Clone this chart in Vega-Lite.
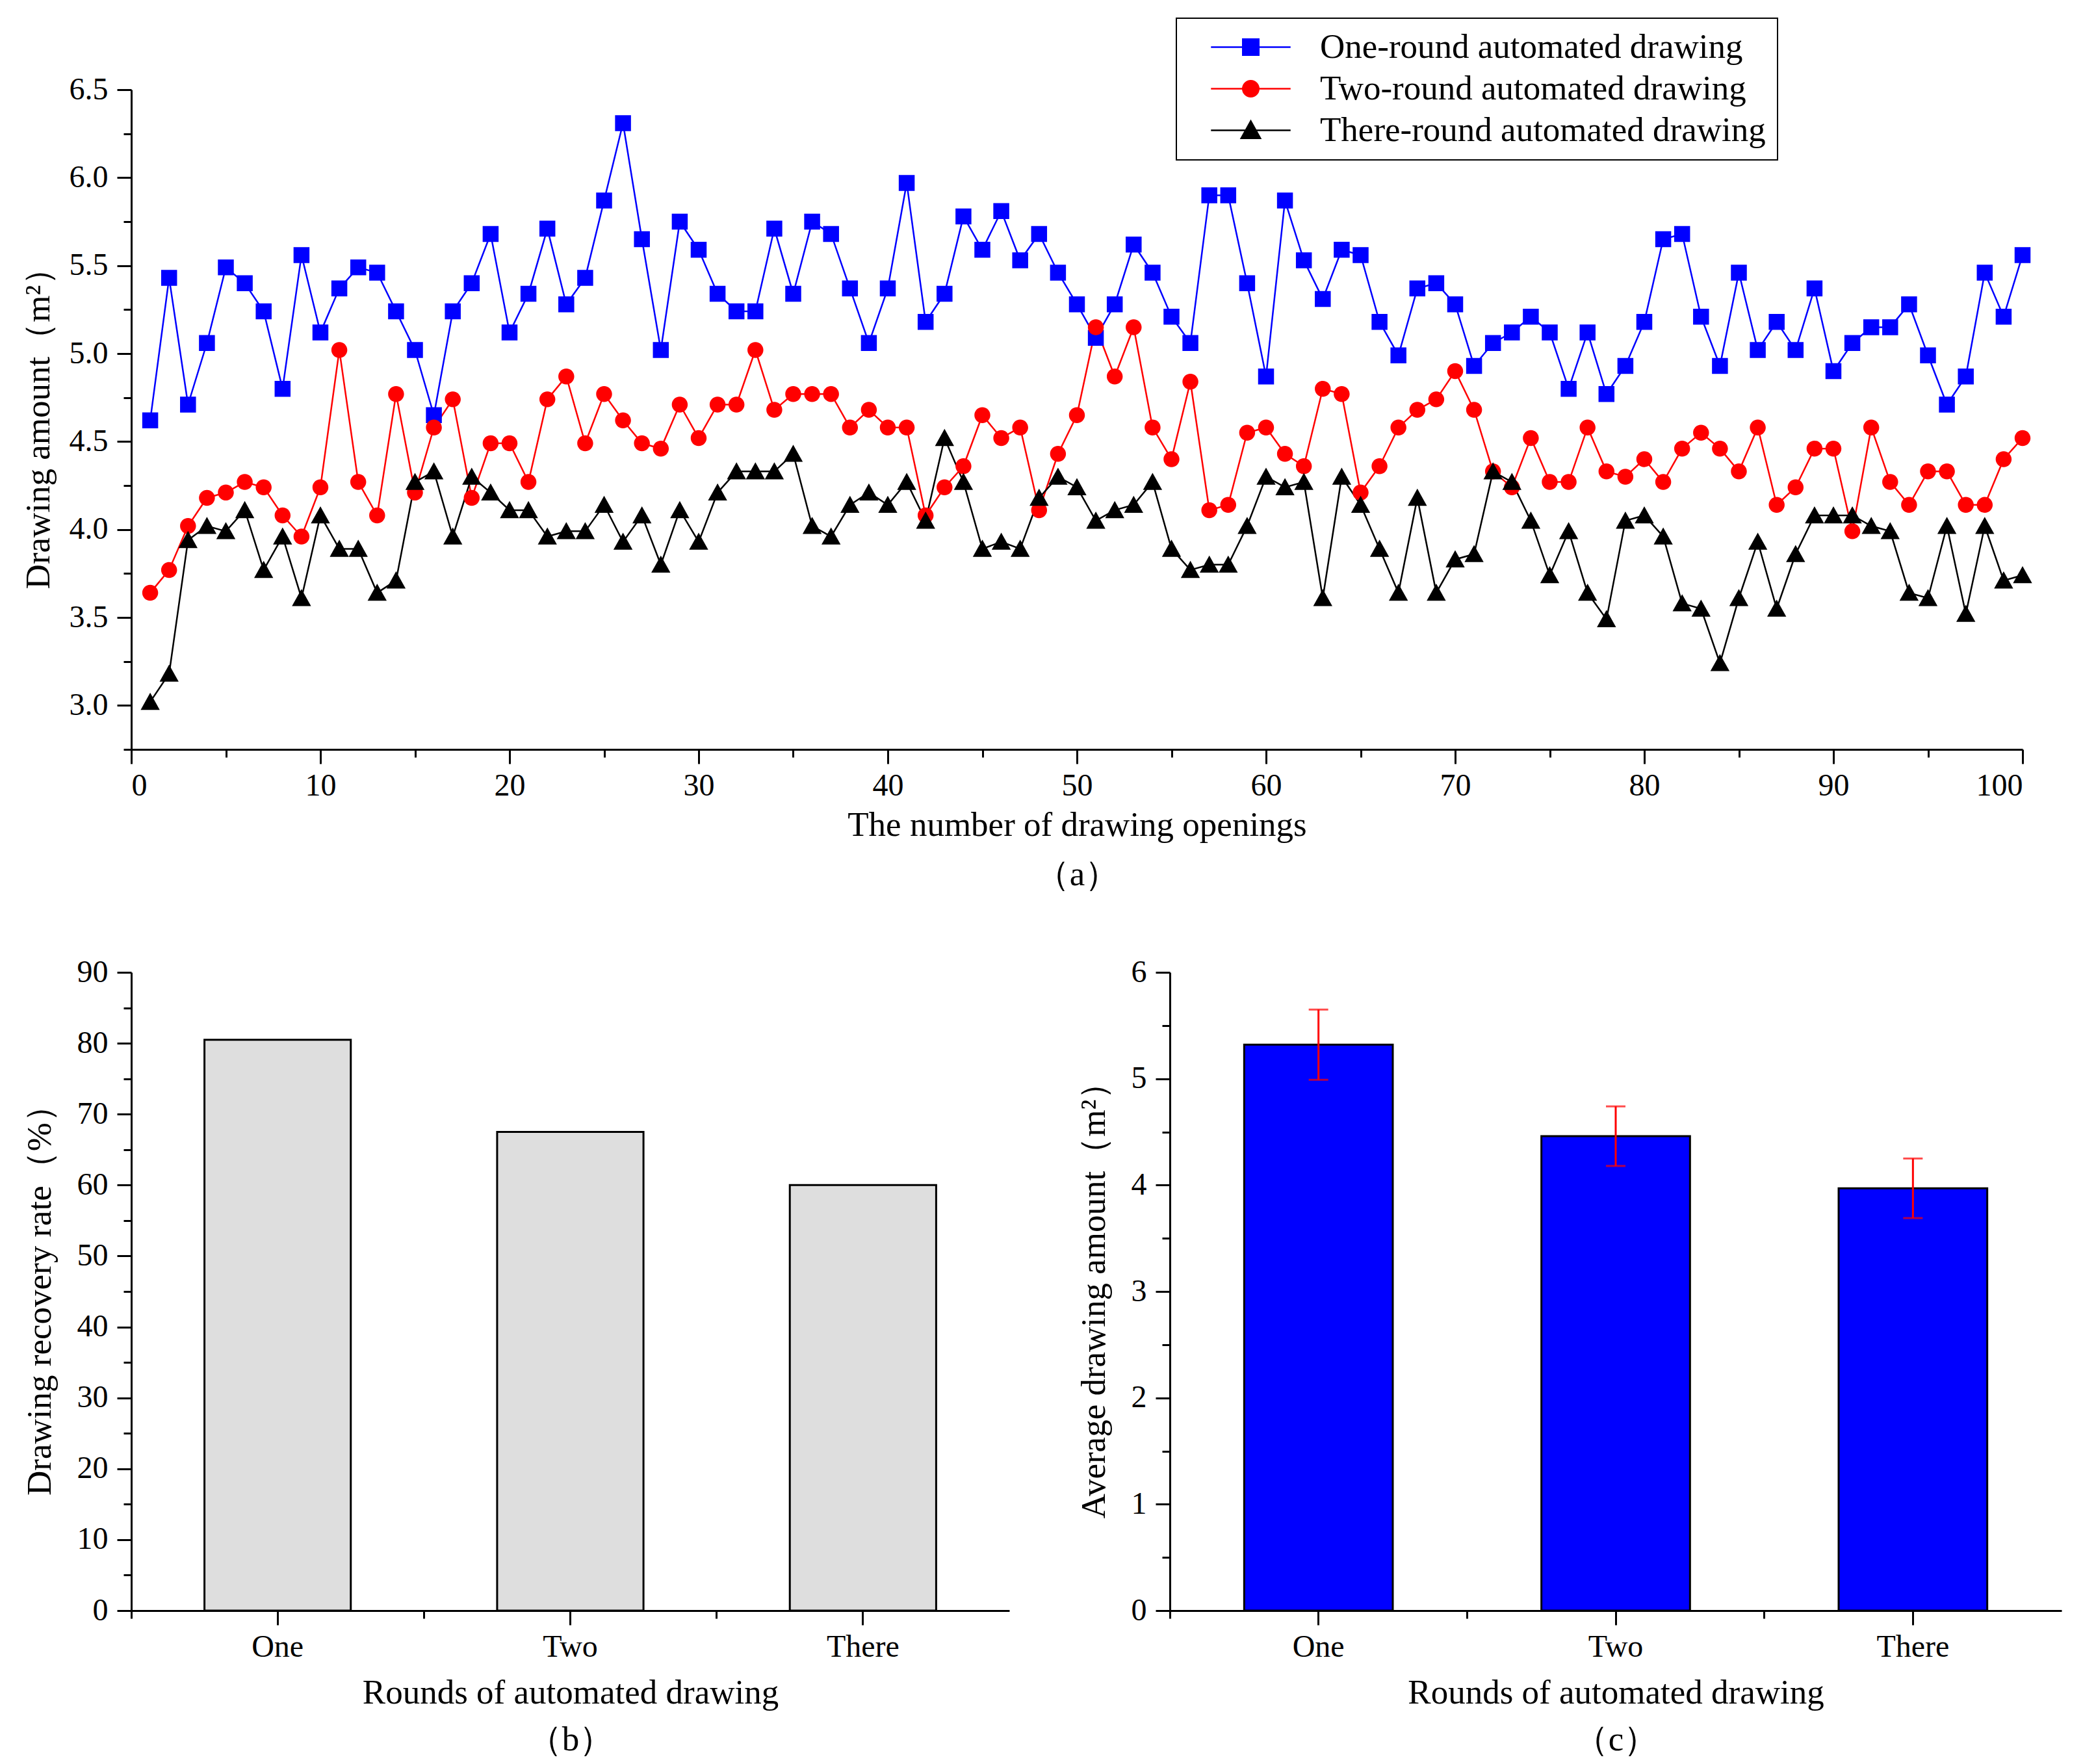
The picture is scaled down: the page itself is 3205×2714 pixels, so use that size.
{
  "$schema": "https://vega.github.io/schema/vega-lite/v6.json",
  "background": "white",
  "padding": {"left": 33, "top": 27, "right": 5, "bottom": 0},
  "config": {
    "font": "Liberation Serif",
    "view": {"stroke": null},
    "axis": {
      "grid": false,
      "domainColor": "black", "domainWidth": 3,
      "tickColor": "black", "tickWidth": 3, "tickSize": 22,
      "labelColor": "black", "labelFont": "Liberation Serif", "labelFontSize": 48, "labelPadding": 14,
      "titleColor": "black", "titleFont": "Liberation Serif", "titleFontSize": 53, "titleFontWeight": "normal"
    },
    "legend": {
      "orient": "none", "legendX": 1608, "legendY": -110, "title": null, "direction": "vertical",
      "strokeColor": "black", "strokeWidth": 2, "padding": 18,
      "labelFontSize": 53, "labelFont": "Liberation Serif", "labelColor": "black", "labelLimit": 2000,
      "rowPadding": 10, "symbolOffset": 70, "labelOffset": 80, "symbolSize": 600
    }
  },
  "spacing": 100,
  "vconcat": [
    {
      "width": 2910,
      "height": 1015,
      "data": {"values": [
        {"n":1,"one":4.62,"two":3.64,"three":3.02},
        {"n":2,"one":5.43,"two":3.77,"three":3.18},
        {"n":3,"one":4.71,"two":4.02,"three":3.94},
        {"n":4,"one":5.06,"two":4.18,"three":4.02},
        {"n":5,"one":5.49,"two":4.21,"three":3.99},
        {"n":6,"one":5.40,"two":4.27,"three":4.11},
        {"n":7,"one":5.24,"two":4.24,"three":3.77},
        {"n":8,"one":4.80,"two":4.08,"three":3.96},
        {"n":9,"one":5.56,"two":3.96,"three":3.61},
        {"n":10,"one":5.12,"two":4.24,"three":4.08},
        {"n":11,"one":5.37,"two":5.02,"three":3.89},
        {"n":12,"one":5.49,"two":4.27,"three":3.89},
        {"n":13,"one":5.46,"two":4.08,"three":3.64},
        {"n":14,"one":5.24,"two":4.77,"three":3.71},
        {"n":15,"one":5.02,"two":4.21,"three":4.27},
        {"n":16,"one":4.65,"two":4.58,"three":4.33},
        {"n":17,"one":5.24,"two":4.74,"three":3.96},
        {"n":18,"one":5.40,"two":4.18,"three":4.30},
        {"n":19,"one":5.68,"two":4.49,"three":4.21},
        {"n":20,"one":5.12,"two":4.49,"three":4.11},
        {"n":21,"one":5.34,"two":4.27,"three":4.11},
        {"n":22,"one":5.71,"two":4.74,"three":3.96},
        {"n":23,"one":5.28,"two":4.87,"three":3.99},
        {"n":24,"one":5.43,"two":4.49,"three":3.99},
        {"n":25,"one":5.87,"two":4.77,"three":4.14},
        {"n":26,"one":6.31,"two":4.62,"three":3.93},
        {"n":27,"one":5.65,"two":4.49,"three":4.08},
        {"n":28,"one":5.02,"two":4.46,"three":3.80},
        {"n":29,"one":5.75,"two":4.71,"three":4.11},
        {"n":30,"one":5.59,"two":4.52,"three":3.93},
        {"n":31,"one":5.34,"two":4.71,"three":4.21},
        {"n":32,"one":5.24,"two":4.71,"three":4.33},
        {"n":33,"one":5.24,"two":5.02,"three":4.33},
        {"n":34,"one":5.71,"two":4.68,"three":4.33},
        {"n":35,"one":5.34,"two":4.77,"three":4.43},
        {"n":36,"one":5.75,"two":4.77,"three":4.02},
        {"n":37,"one":5.68,"two":4.77,"three":3.96},
        {"n":38,"one":5.37,"two":4.58,"three":4.14},
        {"n":39,"one":5.06,"two":4.68,"three":4.21},
        {"n":40,"one":5.37,"two":4.58,"three":4.14},
        {"n":41,"one":5.97,"two":4.58,"three":4.27},
        {"n":42,"one":5.18,"two":4.08,"three":4.05},
        {"n":43,"one":5.34,"two":4.24,"three":4.52},
        {"n":44,"one":5.78,"two":4.36,"three":4.27},
        {"n":45,"one":5.59,"two":4.65,"three":3.89},
        {"n":46,"one":5.81,"two":4.52,"three":3.93},
        {"n":47,"one":5.53,"two":4.58,"three":3.89},
        {"n":48,"one":5.68,"two":4.11,"three":4.18},
        {"n":49,"one":5.46,"two":4.43,"three":4.30},
        {"n":50,"one":5.28,"two":4.65,"three":4.24},
        {"n":51,"one":5.09,"two":5.15,"three":4.05},
        {"n":52,"one":5.28,"two":4.87,"three":4.11},
        {"n":53,"one":5.62,"two":5.15,"three":4.14},
        {"n":54,"one":5.46,"two":4.58,"three":4.27},
        {"n":55,"one":5.21,"two":4.40,"three":3.89},
        {"n":56,"one":5.06,"two":4.84,"three":3.77},
        {"n":57,"one":5.90,"two":4.11,"three":3.80},
        {"n":58,"one":5.90,"two":4.14,"three":3.80},
        {"n":59,"one":5.40,"two":4.55,"three":4.02},
        {"n":60,"one":4.87,"two":4.58,"three":4.30},
        {"n":61,"one":5.87,"two":4.43,"three":4.24},
        {"n":62,"one":5.53,"two":4.36,"three":4.27},
        {"n":63,"one":5.31,"two":4.80,"three":3.61},
        {"n":64,"one":5.59,"two":4.77,"three":4.30},
        {"n":65,"one":5.56,"two":4.21,"three":4.14},
        {"n":66,"one":5.18,"two":4.36,"three":3.89},
        {"n":67,"one":4.99,"two":4.58,"three":3.64},
        {"n":68,"one":5.37,"two":4.68,"three":4.18},
        {"n":69,"one":5.40,"two":4.74,"three":3.64},
        {"n":70,"one":5.28,"two":4.90,"three":3.83},
        {"n":71,"one":4.93,"two":4.68,"three":3.86},
        {"n":72,"one":5.06,"two":4.33,"three":4.33},
        {"n":73,"one":5.12,"two":4.24,"three":4.27},
        {"n":74,"one":5.21,"two":4.52,"three":4.05},
        {"n":75,"one":5.12,"two":4.27,"three":3.74},
        {"n":76,"one":4.80,"two":4.27,"three":3.99},
        {"n":77,"one":5.12,"two":4.58,"three":3.64},
        {"n":78,"one":4.77,"two":4.33,"three":3.49},
        {"n":79,"one":4.93,"two":4.30,"three":4.05},
        {"n":80,"one":5.18,"two":4.40,"three":4.08},
        {"n":81,"one":5.65,"two":4.27,"three":3.96},
        {"n":82,"one":5.68,"two":4.46,"three":3.58},
        {"n":83,"one":5.21,"two":4.55,"three":3.55},
        {"n":84,"one":4.93,"two":4.46,"three":3.24},
        {"n":85,"one":5.46,"two":4.33,"three":3.61},
        {"n":86,"one":5.02,"two":4.58,"three":3.93},
        {"n":87,"one":5.18,"two":4.14,"three":3.55},
        {"n":88,"one":5.02,"two":4.24,"three":3.86},
        {"n":89,"one":5.37,"two":4.46,"three":4.08},
        {"n":90,"one":4.90,"two":4.46,"three":4.08},
        {"n":91,"one":5.06,"two":3.99,"three":4.08},
        {"n":92,"one":5.15,"two":4.58,"three":4.02},
        {"n":93,"one":5.15,"two":4.27,"three":3.99},
        {"n":94,"one":5.28,"two":4.14,"three":3.64},
        {"n":95,"one":4.99,"two":4.33,"three":3.61},
        {"n":96,"one":4.71,"two":4.33,"three":4.02},
        {"n":97,"one":4.87,"two":4.14,"three":3.52},
        {"n":98,"one":5.46,"two":4.14,"three":4.02},
        {"n":99,"one":5.21,"two":4.40,"three":3.71},
        {"n":100,"one":5.56,"two":4.52,"three":3.74}
      ]},
      "transform": [{"fold": ["one", "two", "three"], "as": ["series", "value"]}],
      "encoding": {
        "color": {"field": "series", "type": "nominal",
                  "scale": {"domain": ["one", "two", "three"], "range": ["#0000ff", "#ff0000", "#000000"]},
                  "legend": {
                    "labelExpr": "datum.label == 'one' ? 'One-round automated drawing\u2003\u2003 ' : datum.label == 'two' ? 'Two-round automated drawing\u2003\u2003 ' : 'There-round automated drawing\u2003\u2003 '",
                    "encode": {"symbols": {"update": {
                      "stroke": {"signal": "datum.value == 'one' ? '#0000ff' : datum.value == 'two' ? '#ff0000' : '#000000'"},
                      "strokeWidth": {"value": 2.5}
                    }}}
                  }}
      },
      "layer": [
        {
          "mark": {"type": "line", "strokeWidth": 2.5},
          "encoding": {
            "x": {"field": "n", "type": "quantitative", "scale": {"domain": [0, 100], "nice": false},
                  "axis": {"values": [0,10,20,30,40,50,60,70,80,90,100], "format": "d", "labelPadding": 10,
                           "title": ["The number of drawing openings", "（a）"], "titleLineHeight": 76, "titlePadding": 10}},
            "y": {"field": "value", "type": "quantitative", "scale": {"domain": [2.75, 6.5], "nice": false, "zero": false},
                  "axis": {"values": [3,3.5,4,4.5,5,5.5,6,6.5], "format": ".1f", "title": "Drawing amount（m²）", "titlePadding": 20}}
          }
        },
        {
          "mark": {"type": "point", "filled": true, "opacity": 1},
          "encoding": {
            "x": {"field": "n", "type": "quantitative",
                  "axis": {"values": [5,15,25,35,45,55,65,75,85,95], "labels": false, "title": null, "domain": false, "tickSize": 12, "orient": "bottom"}},
            "y": {"field": "value", "type": "quantitative",
                  "axis": {"values": [2.75,3.25,3.75,4.25,4.75,5.25,5.75,6.25], "labels": false, "title": null, "domain": false, "tickSize": 12, "orient": "left"}},
            "shape": {"field": "series", "type": "nominal",
                      "scale": {"domain": ["one", "two", "three"], "range": [
                        "M-5,0H5M-1,-1H1V1H-1Z",
                        "M-5,0H5M1,0A1,1,0,1,1,-1,0A1,1,0,1,1,1,0Z",
                        "M-5,0H5M0,-1.15L1.2,1H-1.2Z"
                      ]},
                      "legend": {
                        "labelExpr": "datum.label == 'one' ? 'One-round automated drawing\u2003\u2003 ' : datum.label == 'two' ? 'Two-round automated drawing\u2003\u2003 ' : 'There-round automated drawing\u2003\u2003 '",
                        "encode": {"symbols": {"update": {
                          "stroke": {"signal": "datum.value == 'one' ? '#0000ff' : datum.value == 'two' ? '#ff0000' : '#000000'"},
                          "strokeWidth": {"value": 2.5}
                        }}}
                      }},
            "size": {"value": 600}
          }
        }
      ],
      "resolve": {"axis": {"x": "independent", "y": "independent"}}
    },
    {
      "spacing": 104,
      "hconcat": [
        {
          "width": 1351,
          "height": 982,
          "data": {"values": [
            {"r": "One", "v": 80.5},
            {"r": "Two", "v": 67.5},
            {"r": "There", "v": 60.0}
          ]},
          "layer": [
            {
              "mark": {"type": "bar", "fill": "#dedede", "stroke": "black", "strokeWidth": 3},
              "encoding": {
                "x": {"field": "r", "type": "nominal", "sort": ["One", "Two", "There"],
                      "scale": {"paddingInner": 0.5, "paddingOuter": 0.25},
                      "axis": {"labelAngle": 0, "labelPadding": 10, "title": ["Rounds of automated drawing", "（b）"], "titleLineHeight": 72, "titlePadding": 20}},
                "y": {"field": "v", "type": "quantitative", "scale": {"domain": [0, 90], "nice": false},
                      "axis": {"values": [0,10,20,30,40,50,60,70,80,90], "title": "Drawing recovery rate（%）", "titlePadding": 30}}
              }
            },
            {
              "mark": {"type": "bar", "opacity": 0},
              "encoding": {
                "x": {"field": "r", "type": "nominal", "sort": ["One", "Two", "There"],
                      "axis": {"bandPosition": -0.5, "labels": false, "title": null, "domain": false, "tickSize": 12, "orient": "bottom"}},
                "y": {"field": "v", "type": "quantitative",
                      "axis": {"values": [5,15,25,35,45,55,65,75,85], "labels": false, "title": null, "domain": false, "tickSize": 12, "orient": "left"}}
              }
            }
          ],
          "resolve": {"axis": {"x": "independent", "y": "independent"}}
        },
        {
          "width": 1372,
          "height": 982,
          "data": {"values": [
            {"r": "One", "m": 5.32, "lo": 4.99, "hi": 5.65},
            {"r": "Two", "m": 4.46, "lo": 4.18, "hi": 4.74},
            {"r": "There", "m": 3.97, "lo": 3.69, "hi": 4.25}
          ]},
          "layer": [
            {
              "mark": {"type": "bar", "fill": "#0000ff", "stroke": "black", "strokeWidth": 3},
              "encoding": {
                "x": {"field": "r", "type": "nominal", "sort": ["One", "Two", "There"],
                      "scale": {"paddingInner": 0.5, "paddingOuter": 0.25},
                      "axis": {"labelAngle": 0, "labelPadding": 10, "title": ["Rounds of automated drawing", "（c）"], "titleLineHeight": 72, "titlePadding": 20}},
                "y": {"field": "m", "type": "quantitative", "scale": {"domain": [0, 6], "nice": false},
                      "axis": {"values": [0,1,2,3,4,5,6], "title": "Average drawing amount（m²）", "titlePadding": 30}}
              }
            },
            {
              "mark": {"type": "errorbar", "color": "#ff0000", "ticks": {"size": 30, "thickness": 3}, "rule": {"strokeWidth": 3}},
              "encoding": {
                "x": {"field": "r", "type": "nominal", "sort": ["One", "Two", "There"],
                      "axis": {"bandPosition": -0.5, "labels": false, "title": null, "domain": false, "tickSize": 12, "orient": "bottom"}},
                "y": {"field": "lo", "type": "quantitative",
                      "axis": {"values": [0.5,1.5,2.5,3.5,4.5,5.5], "labels": false, "title": null, "domain": false, "tickSize": 12, "orient": "left"}},
                "y2": {"field": "hi"}
              }
            }
          ],
          "resolve": {"axis": {"x": "independent", "y": "independent"}}
        }
      ]
    }
  ]
}
